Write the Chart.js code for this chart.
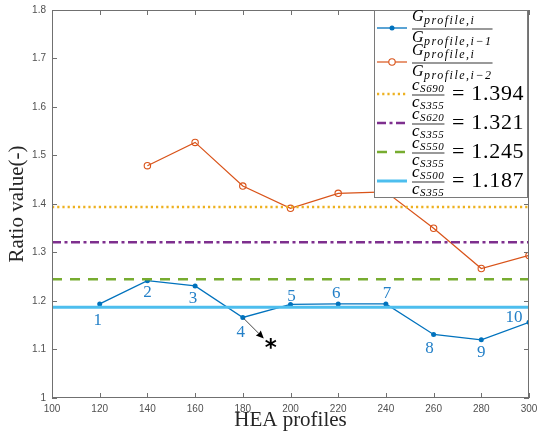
<!DOCTYPE html>
<html>
<head>
<meta charset="utf-8">
<script src="https://cdn.jsdelivr.net/npm/chart.js@4.4.0/dist/chart.umd.min.js"></script>
<style>
    html, body { margin: 0; padding: 0; background: #fff; }
</style>
</head>
<body>
<canvas id="myChart" width="537" height="439"></canvas>
<script>
// HEA profiles and measured ratios
const profiles = [120, 140, 160, 180, 200, 220, 240, 260, 280, 300];
const ratioPrev = [1.194, 1.242, 1.231, 1.166, 1.193, 1.194, 1.194, 1.131, 1.120, 1.156];
const ratioPrev2 = [null, 1.479, 1.527, 1.437, 1.391, 1.422, 1.425, 1.350, 1.267, 1.294];
const pointNames = ['1', '2', '3', '4', '5', '6', '7', '8', '9', '10'];

// steel grade ratios c_Sxxx / c_S355
const grades = ['S690', 'S620', 'S550', 'S500'];
const gradeRatios = [1.394, 1.321, 1.245, 1.187];
const gradeBase = 'S355';

// axis ranges
const xMin = 100, xMax = 300, xStep = 20;
const yMin = 1, yMax = 1.8, yStep = 0.1;

const serif = '"Liberation Serif", "Times New Roman", serif';
const sans = '"Liberation Sans", Arial, sans-serif';

const blue = '#0072BD', orange = '#D95319';
const gradeStyles = [
    {color: '#EDB120', dash: [2.2, 3], width: 2.5},
    {color: '#7E2F8E', dash: [9, 3.5, 3, 3.5], width: 2.5},
    {color: '#77AC30', dash: [10, 8], width: 2.5},
    {color: '#4DBEEE', dash: [], width: 3}
];

function toPoints(ys) {
    let pts = [];
    for (let i = 0; i < profiles.length; i++) {
        if (ys[i] !== null) pts.push({x: profiles[i], y: ys[i]});
    }
    return pts;
}

let datasets = [
    {
        label: 'prev1', data: toPoints(ratioPrev), showLine: true,
        borderColor: blue, backgroundColor: blue, borderWidth: 1.3,
        pointRadius: 2.5, pointBorderWidth: 0, order: 6
    },
    {
        label: 'prev2', data: toPoints(ratioPrev2), showLine: true,
        borderColor: orange, backgroundColor: 'rgba(0,0,0,0)', borderWidth: 1.2,
        pointRadius: 3.2, pointBorderWidth: 1.1, order: 5
    }
];
for (let i = 0; i < grades.length; i++) {
    datasets.push({
        label: grades[i],
        data: [{x: xMin, y: gradeRatios[i]}, {x: xMax, y: gradeRatios[i]}],
        showLine: true, pointRadius: 0,
        borderColor: gradeStyles[i].color, borderDash: gradeStyles[i].dash,
        borderWidth: gradeStyles[i].width, borderCapStyle: 'butt',
        order: 4 - i
    });
}

// text with a subscript, returns its width
function drawSub(ctx, x, baseline, base, sub, s) {
    ctx.font = 'italic ' + s.base + 'px ' + serif;
    ctx.letterSpacing = '0px';
    ctx.fillText(base, x, baseline);
    let w = ctx.measureText(base).width + 0.5;
    ctx.font = 'italic ' + s.sub + 'px ' + serif;
    ctx.letterSpacing = s.spacing + 'px';
    ctx.fillText(sub, x + w, baseline + s.drop);
    w += ctx.measureText(sub).width;
    ctx.letterSpacing = '0px';
    return w;
}

function drawFrac(ctx, x, bar, num, den, s) {
    let w1 = drawSub(ctx, x, bar - s.up, num[0], num[1], s);
    let w2 = drawSub(ctx, x, bar + s.down, den[0], den[1], s);
    let w = Math.max(w1, w2);
    ctx.fillRect(x, bar - 0.4, w, 0.8);
    return w;
}

const annotations = {
    id: 'annotations',
    afterDraw(chart) {
        const ctx = chart.ctx;
        const a = chart.chartArea;
        const xs = chart.scales.x, ys = chart.scales.y;
        ctx.save();

        // axes box with inward ticks
        ctx.strokeStyle = '#707070';
        ctx.lineWidth = 1;
        ctx.strokeRect(a.left + 0.5, a.top + 0.5, a.right - a.left - 1, a.bottom - a.top - 1);
        ctx.beginPath();
        for (let v = xMin; v <= xMax; v += xStep) {
            let px = Math.round(xs.getPixelForValue(v)) + 0.5;
            ctx.moveTo(px, a.bottom); ctx.lineTo(px, a.bottom - 5);
            ctx.moveTo(px, a.top); ctx.lineTo(px, a.top + 5);
        }
        for (let v = yMin; v <= yMax + 1e-9; v += yStep) {
            let py = Math.round(ys.getPixelForValue(v)) + 0.5;
            ctx.moveTo(a.left, py); ctx.lineTo(a.left + 5, py);
            ctx.moveTo(a.right, py); ctx.lineTo(a.right - 5, py);
        }
        ctx.stroke();

        // axis titles
        ctx.fillStyle = '#262626';
        ctx.font = '21px ' + serif;
        ctx.textAlign = 'center';
        ctx.textBaseline = 'alphabetic';
        ctx.fillText('HEA profiles', (a.left + a.right) / 2, 426);
        ctx.save();
        ctx.translate(23, (a.top + a.bottom) / 2);
        ctx.rotate(-Math.PI / 2);
        ctx.fillText('Ratio value(-)', 0, 0);
        ctx.restore();

        // profile numbers next to the points
        const offsets = [[-2, 16], [0, 11], [-2, 12], [-2, 14], [1, -9], [-2, -11], [1, -11], [-4, 13], [0, 12], [-15, -6]];
        const pts = chart.getDatasetMeta(0).data;
        ctx.fillStyle = '#2480c8';
        ctx.font = '17px ' + serif;
        ctx.textBaseline = 'middle';
        for (let i = 0; i < pts.length; i++) {
            ctx.fillText(pointNames[i], pts[i].x + offsets[i][0], pts[i].y + offsets[i][1] + 1);
        }

        // arrow from point 4 to the asterisk
        const p4 = pts[3];
        const tx = p4.x + 21, ty = p4.y + 21;
        ctx.strokeStyle = '#444';
        ctx.lineWidth = 1;
        ctx.beginPath();
        ctx.moveTo(p4.x + 1, p4.y + 1);
        ctx.lineTo(tx - 4, ty - 4);
        ctx.stroke();
        ctx.fillStyle = '#000';
        ctx.beginPath();
        ctx.moveTo(tx, ty);
        ctx.lineTo(tx - 8, ty - 3);
        ctx.lineTo(tx - 5, ty - 5);
        ctx.lineTo(tx - 3, ty - 8);
        ctx.closePath();
        ctx.fill();
        ctx.font = 'bold 23px "DejaVu Sans", sans-serif';
        ctx.textBaseline = 'alphabetic';
        ctx.fillText('*', p4.x + 28, p4.y + 26 + 12);

        // legend
        const lx = 374, ly = 10, lw = 153, lh = 187;
        ctx.fillStyle = '#fff';
        ctx.fillRect(lx, ly, lw, lh);
        ctx.strokeStyle = '#7a7a7a';
        ctx.lineWidth = 1;
        ctx.strokeRect(lx + 0.5, ly + 0.5, lw, lh);

        const rows = [28, 62, 94, 123, 152, 181];
        const sx0 = 377, sx1 = 407, tx0 = 412;
        ctx.textAlign = 'left';
        ctx.textBaseline = 'alphabetic';
        for (let i = 0; i < 6; i++) {
            const ds = datasets[i];
            const y = rows[i];
            ctx.save();
            ctx.strokeStyle = ds.borderColor;
            ctx.lineWidth = ds.borderWidth;
            ctx.setLineDash(ds.borderDash || []);
            ctx.beginPath();
            ctx.moveTo(sx0, y); ctx.lineTo(sx1, y);
            ctx.stroke();
            ctx.setLineDash([]);
            if (i === 0) {
                ctx.fillStyle = blue;
                ctx.beginPath(); ctx.arc((sx0 + sx1) / 2, y, 2.5, 0, 2 * Math.PI); ctx.fill();
            } else if (i === 1) {
                ctx.fillStyle = '#fff';
                ctx.lineWidth = 1.1;
                ctx.beginPath(); ctx.arc((sx0 + sx1) / 2, y, 3.2, 0, 2 * Math.PI); ctx.fill(); ctx.stroke();
            }
            ctx.restore();

            ctx.fillStyle = '#000';
            if (i < 2) {
                drawFrac(ctx, tx0, y + 1, ['G', 'profile,i'], ['G', i === 0 ? 'profile,i\u22121' : 'profile,i\u22122'],
                    {base: 16, sub: 12, spacing: 1.5, drop: 3, up: 8, down: 13});
            } else {
                const g = i - 2;
                drawFrac(ctx, tx0, y + 1, ['c', grades[g]], ['c', gradeBase],
                    {base: 17, sub: 11, spacing: 0.6, drop: 2, up: 5, down: 12});
                ctx.font = '22px ' + serif;
                ctx.letterSpacing = '0.7px';
                ctx.fillText('= ' + gradeRatios[g].toFixed(3), 452, y + 6);
                ctx.letterSpacing = '0px';
            }
        }
        ctx.restore();
    }
};

new Chart(document.getElementById('myChart').getContext('2d'), {
    type: 'scatter',
    data: {datasets: datasets},
    options: {
        responsive: false,
        animation: false,
        layout: {padding: {left: 0, right: 8, top: 10, bottom: 0}},
        plugins: {
            legend: {display: false},
            tooltip: {enabled: false}
        },
        scales: {
            x: {
                type: 'linear', min: xMin, max: xMax,
                grid: {display: false, drawTicks: false},
                border: {display: false},
                ticks: {
                    stepSize: xStep, autoSkip: false, maxRotation: 0, padding: 5,
                    color: '#505050', font: {family: sans, size: 10}
                },
                afterFit: function (s) {
                    s.height = 41;
                    s.paddingLeft = 0; s.paddingRight = 0;
                }
            },
            y: {
                min: yMin, max: yMax,
                grid: {display: false, drawTicks: false},
                border: {display: false},
                ticks: {
                    stepSize: yStep, autoSkip: false, padding: 6,
                    color: '#505050', font: {family: sans, size: 10},
                    callback: function (v) { return String(Math.round(v * 10) / 10); }
                },
                afterFit: function (s) {
                    s.width = 52;
                    s.paddingTop = 0; s.paddingBottom = 0;
                }
            }
        }
    },
    plugins: [annotations]
});
</script>
</body>
</html>
